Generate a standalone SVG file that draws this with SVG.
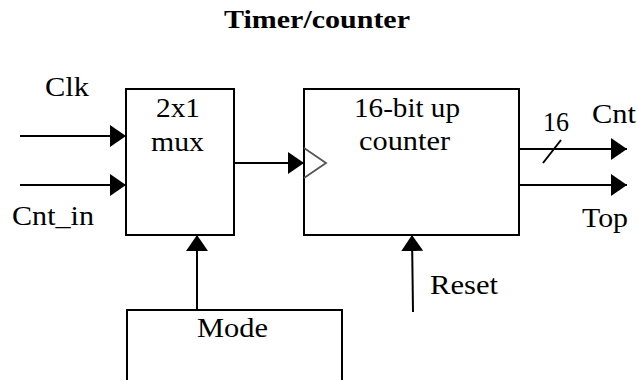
<svg xmlns="http://www.w3.org/2000/svg" width="638" height="380" viewBox="0 0 638 380" font-family="'Liberation Serif','Times New Roman',serif">
<defs>
<style>
text{font-family:"Liberation Serif","Times New Roman",serif;font-size:27px;fill:#000}
.title{font-weight:bold;font-size:26px}
.box{fill:#fff;stroke:#000;stroke-width:2}
.wire{stroke:#000;stroke-width:2;fill:none}
</style>
<marker id="ah" markerUnits="userSpaceOnUse" markerWidth="16" markerHeight="22" refX="16" refY="11" orient="auto">
<path d="M0,0 L16,11 L0,22 z" fill="#000"/>
</marker>
</defs>
<rect width="638" height="380" fill="#fff"/>
<text class="title" x="224" y="28" textLength="186" lengthAdjust="spacingAndGlyphs">Timer/counter</text>
<g id="mux">
<rect class="box" x="126" y="89" width="108" height="146"/>
<text x="156" y="117" textLength="44" lengthAdjust="spacingAndGlyphs">2x1</text>
<text x="151" y="151" textLength="53" lengthAdjust="spacingAndGlyphs">mux</text>
</g>
<g id="counter">
<rect class="box" x="304" y="89" width="215" height="146"/>
<polyline points="304,148 326,163 304,178" fill="none" stroke="#555" stroke-width="1.8"/>
<text x="354" y="117" textLength="106" lengthAdjust="spacingAndGlyphs">16-bit up</text>
<text x="359" y="150" textLength="91" lengthAdjust="spacingAndGlyphs">counter</text>
</g>
<g id="mode">
<rect class="box" x="127" y="310" width="215" height="90"/>
<text x="197" y="337" textLength="71" lengthAdjust="spacingAndGlyphs">Mode</text>
</g>
<g id="connectors">
<line class="wire" x1="20" y1="136" x2="126" y2="136" marker-end="url(#ah)"/>
<line class="wire" x1="20" y1="185" x2="126" y2="185" marker-end="url(#ah)"/>
<line class="wire" x1="234" y1="163" x2="304" y2="163" marker-end="url(#ah)"/>
<line class="wire" x1="519" y1="149" x2="627" y2="149" marker-end="url(#ah)"/>
<line class="wire" x1="543" y1="163" x2="561" y2="140" stroke-width="1.5"/>
<line class="wire" x1="519" y1="185" x2="627" y2="185" marker-end="url(#ah)"/>
<line class="wire" x1="197" y1="310" x2="197" y2="235" marker-end="url(#ah)"/>
<line class="wire" x1="413" y1="312" x2="412" y2="235" marker-end="url(#ah)"/>
</g>
<g id="labels">
<text x="45" y="96" textLength="44" lengthAdjust="spacingAndGlyphs">Clk</text>
<text x="12" y="225" textLength="82" lengthAdjust="spacingAndGlyphs">Cnt_in</text>
<text x="543" y="131" textLength="26" lengthAdjust="spacingAndGlyphs">16</text>
<text x="592" y="123" textLength="44" lengthAdjust="spacingAndGlyphs">Cnt</text>
<text x="582" y="227" textLength="46" lengthAdjust="spacingAndGlyphs">Top</text>
<text x="430" y="294" textLength="68" lengthAdjust="spacingAndGlyphs">Reset</text>
</g>
</svg>
